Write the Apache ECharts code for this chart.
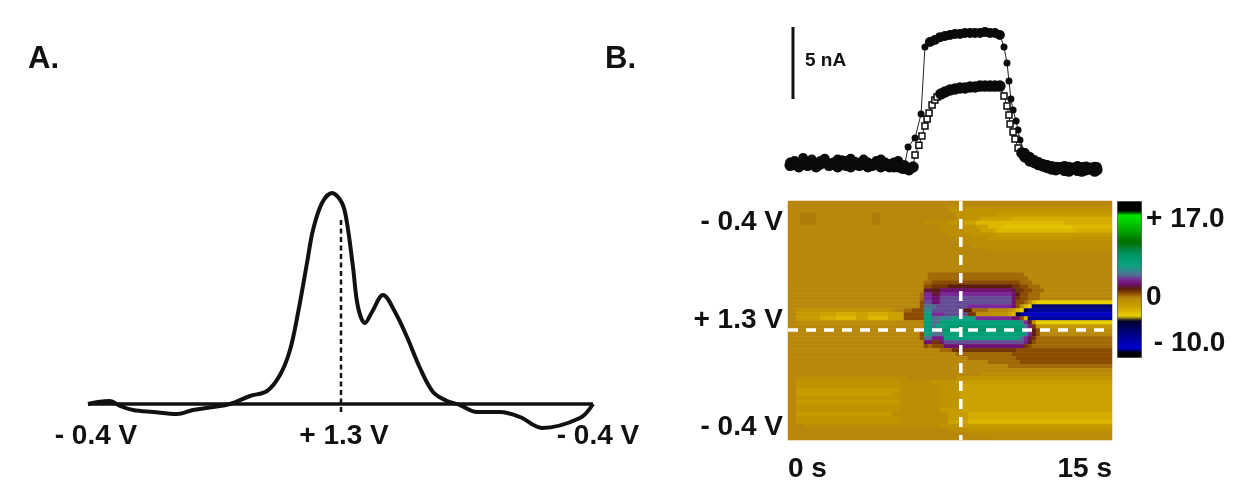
<!DOCTYPE html>
<html><head><meta charset="utf-8">
<style>html,body{margin:0;padding:0;background:#fff}#c{width:1248px;height:491px;filter:blur(0.45px)}</style>
<script src="https://cdn.jsdelivr.net/npm/echarts@6/dist/echarts.min.js"></script>
</head><body><div id="c"></div>
<script>
// Panel A: voltammogram (scan position, current in arbitrary units)
const cvScan = [0,10,22,32,45,65,89,105,125,142,162,179,192,202,210,219,225,234,244,254,259,265,270,277,284,295,307,319,332,345,359,372,389,412,432,454,492,505];
const cvCurrent = [0,2,3,-2,-6,-8,-10,-6,-3,0,8,13,29,54,91,141,174,201,211,201,181,137,97,81,92,109,92,67,36,12,3,-1,-8,-8,-13,-24,-14,0];
const xAxisLabelsA = ['- 0.4 V','+ 1.3 V','- 0.4 V'];
const xLabelPosA = [8,256,510];
const baselineScan = [0,505];
const peakScan = 253;
const peakTop = 187;

// Panel B trace: time (s), current (nA)
const circleT = [.1,.3,.5,.7,.9,1.1,1.3,1.5,1.7,1.9,2.1,2.3,2.5,2.7,2.9,3.1,3.3,3.5,3.7,3.9,4.1,4.3,4.5,4.7,4.9,5.1,5.3,5.4,5.56,5.88,6.16,6.34,6.57,6.8,7.04,7.27,7.5,7.73,7.96,8.19,8.43,8.66,8.89,9.12,9.35,9.58,9.81,10,10.14,10.23,10.32,10.42,10.56,10.65,10.74,10.97,11.2,11.4,11.6,11.8,12,12.2,12.4,12.6,12.8,13,13.2,13.4,13.6,13.8,14,14.2,14.3];
const circleI = [-.1,0,-.2,.2,-.1,.1,-.2,0,.15,-.2,-.1,.1,-.3,0,.15,-.1,-.2,.1,-.1,-.2,0,.1,-.1,-.2,-.1,0,-.3,-.3,.97,1.6,3.26,7.92,8.26,8.4,8.6,8.68,8.75,8.82,8.82,8.89,8.89,8.89,8.89,8.96,8.89,8.89,8.75,7.92,6.8,5.56,4.31,3.54,2.78,2.15,1.46,.56,.28,.07,-.07,-.2,-.28,-.35,-.4,-.42,-.35,-.4,-.45,-.35,-.42,-.38,-.45,-.4,-.42];
const squareT = [.1,.3,.5,.7,.9,1.1,1.3,1.5,1.7,1.9,2.1,2.3,2.5,2.7,2.9,3.1,3.3,3.5,3.7,3.9,4.1,4.3,4.5,4.7,4.9,5.1,5.3,5.4,5.6,5.79,5.88,6.06,6.2,6.34,6.44,6.53,6.67,6.8,6.9,7.08,7.27,7.5,7.73,7.96,8.19,8.43,8.66,8.89,9.12,9.35,9.58,9.81,10,10.14,10.23,10.28,10.42,10.51,10.65,10.83,10.97,11.2,11.4,11.6,11.8,12,12.2,12.4,12.6,12.8,13,13.2,13.4,13.6,13.8,14,14.2,14.3];
const squareI = [-.3,-.2,-.4,-.1,-.3,-.05,-.4,-.2,0,-.3,-.2,-.4,0,-.3,-.4,-.1,-.3,-.2,-.4,-.3,-.1,-.4,-.3,-.4,-.4,-.4,-.5,-.5,-.6,-.42,.42,1.1,1.74,2.43,2.92,3.33,3.89,4.24,4.44,4.65,4.79,4.93,5,5.07,5.07,5.14,5.14,5.2,5.2,5.2,5.2,5.2,4.51,3.82,3.19,2.57,2.01,1.53,.9,.56,.28,0,-.1,-.25,-.35,-.45,-.55,-.6,-.5,-.65,-.7,-.55,-.65,-.7,-.6,-.55,-.7,-.6];
const scaleBarT = [.23,.23];
const scaleBarI = [4.3,9.3];
const scaleBarLabel = '5 nA';

// Panel B colour plot: each row holds [value, run length, ...] in nA
const heatRuns = [
[0,81],
[0,40,-.5,41],
[0,40,-1,41],
[0,3,.2,4,0,14,.2,2,0,19,-1,10,-1.5,29],
[0,3,.2,4,0,14,.2,2,0,19,-1,6,-2,8,-2.5,25],
[0,3,.2,4,0,14,.2,2,0,11,-.5,6,-1,4,-2,3,-3,22,-2.5,8],
[0,38,-.5,6,-1,3,-2,3,-3,4,-3.5,17,-3,10],
[0,38,-.5,6,-1,4,-2,4,-3,20,-2.5,9],
[0,40,-.5,6,-1,6,-1.5,29],
[0,42,-.5,8,-1,31],
[0,44,-.5,37],
[0,46,-.5,35],
[0,50,-.3,31],
[0,81],
[0,81],
[0,81],
[0,81],
[0,81],
[0,35,.5,24,0,22],
[0,35,.5,25,0,21],
[0,34,.5,2,1,22,.5,3,0,20],
[0,34,1,2,1.5,4,2,16,1.5,2,1,2,.5,3,0,18],
[0,34,2.5,2,2,2,3,18,2.5,1,1.5,2,1,2,.5,3,0,17],
[0,33,.5,1,4,2,2.5,2,4,18,3,1,2,1,1,2,.5,3,0,18],
[0,33,.5,1,4,2,3,2,4.5,18,3,1,1.5,1,1,2,.5,3,0,18],
[0,33,1,1,4.5,2,3,2,4.5,18,3,1,1,2,.5,1,-.5,1,-3,1,-4,19],
[0,33,1,1,5,3,4.5,8,4,11,3,1,1,1,-.5,1,-3,1,-4,1,-7,20],
[0,2,-1,24,0,3,.5,2,1,3,6,2,4.5,8,2,2,.5,4,0,5,-1,1,-2,1,-3,1,-4,1,-6,1,-9,21],
[0,2,-1.5,6,-2,4,-2.5,5,-2,3,-2.5,5,-2,4,1,5,7.5,2,4,3,4.5,6,1.5,2,-.5,4,-1,4,-2,1,-3,1,-6,1,-8,1,-10.5,22],
[0,2,-1.5,6,-2.5,4,-3,5,-2,3,-3,5,-2,4,1,5,8,2,5,2,6,3,7,6,4,9,3,2,1,1,-3,1,-8,1,-9,20],
[0,2,-.5,25,0,7,8,2,5,2,8,20,6,1,4,1,2,1,-1,1,-4,19],
[0,34,8,2,5,1,7,3,8.5,19,5,1,3.5,1,1.5,1,-1.5,19],
[0,33,1,1,8,2,6,1,5,1,6,1,9,20,6,1,4,1,2,1,1,1,-.5,18],
[0,33,1,1,7,2,5,3,8,20,6,1,4,1,2,1,1,1,0,18],
[0,33,1,1,5,2,3.5,3,7.5,19,5,1,4,1,2.5,1,1.5,1,.5,18],
[0,34,3,2,1.5,2,3,1,4.5,20,3.5,1,2,1,1,1,.5,19],
[0,34,1,1,.5,1,1,3,3,20,1.5,1,1,1,.5,20],
[0,38,.5,3,1.5,16,1,25],
[0,42,.5,14,1,25],
[0,45,.5,12,1,24],
[0,50,.5,8,1,23],
[0,55,.5,26],
[0,81],
[0,48,-.5,33],
[0,2,-.5,28,0,12,-1,39],
[0,2,-1,26,-.5,8,-1,6,-1.5,39],
[0,2,-1,26,-.5,10,-1,5,-2,38],
[0,2,-1.5,26,-.5,10,-1,5,-2,38],
[0,2,-1.5,24,-1,2,-.5,10,-1,5,-2,38],
[0,2,-1,26,-.5,10,-1,5,-2,38],
[0,2,-1.5,26,-.5,10,-1,5,-2,38],
[0,2,-1,26,-.5,10,-1,5,-2,38],
[0,2,-1,26,-.5,10,-1.5,5,-2,38],
[0,2,-1.5,24,-.5,14,-1.5,5,-2.5,36],
[0,2,-1,26,-.5,12,-1.5,5,-2.5,36],
[0,2,-1,26,-.5,12,-2,5,-3,36],
[0,4,-.5,34,-1,5,-1.5,38],
[0,40,-.5,5,-1,36],
[0,45,-.5,36],
[0,50,-.3,31]
];
const heatCols = 81;
const heatColours = ['#000000','#000000','#0000d0','#0000b8','#0000a0','#000088','#00006c','#000048','#00002a','#e8d000','#dcb800','#cca200','#c09400','#b8880c','#8c4c00','#5a1e10','#701070','#7a2a98','#507090','#308890','#10a080','#00a078','#009868','#008c50','#008030','#007000','#008000','#009800','#00b000','#00c000','#00d800','#00e400','#000000','#000000','#000000'];
const heatMin = -13, heatMax = 21;
const colourTicks = [17,0,-10];
const colourLabels = ['+ 17.0','0',' - 10.0'];

// Panel B axis text and guides
const timeLabelFormat = ' s';
const scanLabelPos = [21,119,226];
const scanLabels = ['- 0.4 V','+ 1.3 V','- 0.4 V'];
const guideT = 8;
const guideScan = 129;
const guideTEnd = 14.7;

const zip = (a,b)=>a.map((v,i)=>[v,b[i]]);
const heatData = [];
heatRuns.forEach((runs,r)=>{
  let c=0;
  for(let i=0;i<runs.length;i+=2){ for(let k=0;k<runs[i+1]&&c<heatCols;k++,c++) heatData.push([c,r,runs[i]]); }
  while(c<heatCols){ heatData.push([c,r,runs[runs.length-2]]); c++; }
});
const hollow = t => (t>=5.8&&t<=6.95)||(t>=10&&t<=10.7);
const thin = t => (t>5.5&&t<6.35)||(t>=10&&t<10.9);
const FF = '"Liberation Sans", Arial, sans-serif';
const lab = {fontFamily:FF,fontWeight:'bold',color:'#111',fontSize:28};

const chart = echarts.init(document.getElementById('c'),null,{renderer:'canvas'});
chart.setOption({
  animation:false,
  backgroundColor:'#ffffff',
  graphic:[
    {type:'text',left:28,top:44,style:{text:'A.',font:'bold 31px '+FF,fill:'#111'}},
    {type:'text',left:605,top:44,style:{text:'B.',font:'bold 31px '+FF,fill:'#111'}},
    {type:'text',left:805,top:51,style:{text:scaleBarLabel,font:'bold 19px '+FF,fill:'#111'}}
  ],
  grid:[
    {left:88,top:180,width:532,height:260},
    {left:788,top:17,width:324,height:172.8},
    {left:788,top:201,width:324,height:239},
    {left:788,top:201,width:324,height:239},
    {left:1117,top:201,width:24,height:156}
  ],
  xAxis:[
    {gridIndex:0,type:'value',min:0,max:532,axisLine:{show:false},axisTick:{show:false},splitLine:{show:false},
     axisLabel:{...lab,margin:-18,customValues:xLabelPosA,formatter:v=>xAxisLabelsA[xLabelPosA.indexOf(v)]}},
    {gridIndex:1,type:'value',min:0,max:15,show:false},
    {gridIndex:2,type:'category',data:Array.from({length:heatCols},(_,i)=>i),show:false},
    {gridIndex:3,type:'value',min:0,max:15,interval:15,axisLine:{show:false},axisTick:{show:false},splitLine:{show:false},
     axisLabel:{...lab,margin:15,alignMinLabel:'left',alignMaxLabel:'right',formatter:v=>v+timeLabelFormat}},
    {gridIndex:4,type:'value',min:0,max:1,show:false}
  ],
  yAxis:[
    {gridIndex:0,type:'value',min:-36,max:224,show:false},
    {gridIndex:1,type:'value',min:-2,max:10,show:false},
    {gridIndex:2,type:'category',inverse:true,data:heatRuns.map((_,i)=>i),show:false},
    {gridIndex:3,type:'value',min:0,max:239,inverse:true,axisLine:{show:false},axisTick:{show:false},splitLine:{show:false},
     axisLabel:{...lab,margin:5,customValues:scanLabelPos,formatter:v=>scanLabels[scanLabelPos.indexOf(v)]}},
    {gridIndex:4,type:'value',position:'right',min:heatMin,max:heatMax,axisLine:{show:false},axisTick:{show:false},splitLine:{show:false},
     axisLabel:{...lab,align:'left',margin:5,customValues:colourTicks,formatter:v=>colourLabels[colourTicks.indexOf(v)]}}
  ],
  visualMap:{type:'continuous',seriesIndex:2,dimension:2,min:heatMin,max:heatMax,left:1117,top:201,itemWidth:24,itemHeight:156,
    text:null,showLabel:false,calculable:false,hoverLink:false,inRange:{color:heatColours},borderColor:'#444',borderWidth:1,padding:0},
  series:[
    {type:'line',name:'Voltammogram',xAxisIndex:0,yAxisIndex:0,data:zip(cvScan,cvCurrent),smooth:0.35,showSymbol:false,z:3,
      lineStyle:{color:'#111',width:4}},
    {type:'line',name:'Baseline',xAxisIndex:0,yAxisIndex:0,data:baselineScan.map(x=>[x,0]),showSymbol:false,z:2,lineStyle:{color:'#111',width:3.5}},
    {type:'heatmap',name:'Colour plot',xAxisIndex:2,yAxisIndex:2,data:heatData,progressive:0,itemStyle:{borderWidth:0}},
    {type:'line',name:'Peak marker',xAxisIndex:0,yAxisIndex:0,data:[[peakScan,-8],[peakScan,peakTop]],showSymbol:false,z:2,lineStyle:{color:'#111',width:2.5,type:[5,3.5]}},
    {type:'line',name:'First trace',xAxisIndex:1,yAxisIndex:1,data:zip(circleT,circleI),symbol:'circle',symbolSize:v=>thin(v[0])?7:10,z:3,
      itemStyle:{color:'#0a0a0a'},lineStyle:{color:'#222',width:1}},
    {type:'line',name:'Second trace',xAxisIndex:1,yAxisIndex:1,data:zip(squareT,squareI),z:4,
      symbol:v=>hollow(v[0])?'rect':'circle',symbolSize:v=>hollow(v[0])?6:10,
      itemStyle:{color:p=>hollow(p.value[0])?'#fff':'#0a0a0a',borderColor:'#0a0a0a',borderWidth:1.5},lineStyle:{color:'#222',width:1}},
    {type:'line',name:'Scale bar',xAxisIndex:1,yAxisIndex:1,data:zip(scaleBarT,scaleBarI),showSymbol:false,lineStyle:{color:'#111',width:3}},
    {type:'line',name:'Voltage guide',xAxisIndex:3,yAxisIndex:3,data:[[0,guideScan],[guideTEnd,guideScan]],showSymbol:false,z:5,lineStyle:{color:'#fff',width:3.5,type:[10,8]}},
    {type:'line',name:'Time guide',xAxisIndex:3,yAxisIndex:3,data:[[guideT,0],[guideT,239]],showSymbol:false,z:5,lineStyle:{color:'#fff',width:3.5,type:[10,8]}}
  ]
});
</script></body></html>
